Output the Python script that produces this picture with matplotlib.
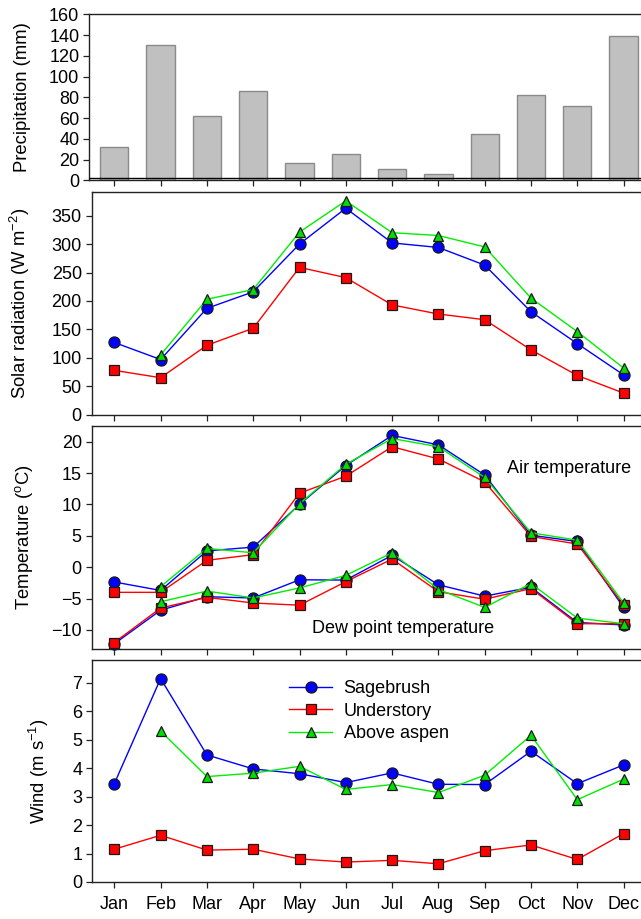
import matplotlib
matplotlib.use("Agg")
import matplotlib.pyplot as plt
import numpy as np

plt.rcParams['font.family'] = ['Liberation Sans', 'DejaVu Sans']
plt.rcParams['mathtext.fontset'] = 'custom'
plt.rcParams['mathtext.rm'] = 'Liberation Sans'
plt.rcParams['mathtext.it'] = 'Liberation Sans:italic'
plt.rcParams['mathtext.bf'] = 'Liberation Sans:bold'

months = ["Jan", "Feb", "Mar", "Apr", "May", "Jun", "Jul", "Aug", "Sep", "Oct", "Nov", "Dec"]

precip = [32, 130, 61.5, 86, 16.5, 25, 10.6, 5.8, 44.3, 82.2, 71.3, 139.4]
precip_ref = 2.6

solar_sage = [127, 97, 187, 216, 300, 363, 302, 294, 263, 181, 125, 70]
solar_under = [78, 65, 122, 152, 259, 241, 193, 177, 167, 114, 69, 38]
solar_aspen = [np.nan, 105, 203, 220, 321, 376, 320, 315, 295, 205, 146, 82]

air_sage = [-2.35, -3.7, 2.6, 3.2, 10.0, 16.2, 21.0, 19.5, 14.7, 5.1, 4.1, -6.4]
air_under = [-4.0, -4.0, 1.1, 2.0, 11.8, 14.5, 19.2, 17.25, 13.6, 4.9, 3.7, -6.0]
air_aspen = [np.nan, -3.1, 3.0, 2.3, 10.1, 16.4, 20.5, 19.2, 14.3, 5.5, 4.3, -5.7]

dew_sage = [-12.2, -6.85, -4.7, -4.9, -2.0, -2.05, 1.9, -2.8, -4.6, -3.2, -8.8, -9.2]
dew_under = [-12.0, -6.5, -4.8, -5.7, -6.05, -2.3, 1.3, -3.9, -5.1, -3.4, -9.0, -9.0]
dew_aspen = [np.nan, -5.5, -3.8, -4.9, -3.3, -1.3, 2.3, -3.55, -6.4, -2.6, -8.1, -9.0]

wind_sage = [3.45, 7.14, 4.46, 3.97, 3.80, 3.49, 3.83, 3.43, 3.42, 4.59, 3.45, 4.11]
wind_under = [1.15, 1.64, 1.12, 1.15, 0.81, 0.70, 0.76, 0.64, 1.10, 1.30, 0.79, 1.70]
wind_aspen = [np.nan, 5.30, 3.70, 3.82, 4.06, 3.25, 3.42, 3.14, 3.75, 5.15, 2.89, 3.61]

series_names = ["Sagebrush", "Understory", "Above aspen"]

W, H = 641, 919
fig = plt.figure(figsize=(W / 100, H / 100), dpi=100)

def add_axes_px(left, top, bottom, right=641):
    return fig.add_axes([left / W, 1 - bottom / H, (right - left) / W, (bottom - top) / H])

x = np.arange(12)
jan_px = 114.3
month_px = 46.3

def xlim_for(left_px):
    return (-(jan_px - left_px) / month_px, (641 - jan_px) / month_px)

ax1 = add_axes_px(89, 14.3, 180.3)
ax2 = add_axes_px(91.5, 192.3, 414.7)
ax3 = add_axes_px(91.5, 426, 648.7)
ax4 = add_axes_px(92, 659.5, 882)

TICK_FS = 13
LABEL_FS = 13.3

for ax, lp in zip([ax1, ax2, ax3, ax4], [89, 91.5, 91.5, 92]):
    ax.set_xlim(*xlim_for(lp))
    ax.set_xticks(x)
    ax.spines['right'].set_visible(False)
    for s in ['left', 'top', 'bottom']:
        ax.spines[s].set_linewidth(1.0)
        ax.spines[s].set_color('#222222')
    ax.tick_params(axis='both', direction='out', length=4, width=0.9, labelsize=TICK_FS, colors='#222222')
    ax.tick_params(axis='y', pad=3)
    ax.tick_params(axis='x', pad=6)
    for lab in ax.get_yticklabels():
        lab.set_color('black')

for ax in [ax1, ax2, ax3]:
    ax.set_xticklabels([])
ax4.set_xticklabels(months)
for lab in ax4.get_xticklabels():
    lab.set_color('black')

# Precipitation
ax1.bar(x, precip, width=0.61, color='#c0c0c0', edgecolor='#8a8a8a', linewidth=1.0, zorder=2)
ax1.axhline(precip_ref, color='black', linewidth=1.0, zorder=3)
ax1.set_ylim(0, 160)
ax1.set_yticks(np.arange(0, 161, 20))
ax1.set_ylabel("Precipitation (mm)", fontsize=LABEL_FS)
ax1.yaxis.set_label_coords(-0.105, 0.5)

colors = ['#0000ff', '#ff0000', '#00ee00']
mfc = ['#0000ff', '#ff0000', '#00dd00']
markers = ['o', 's', '^']
msizes = [8, 7, 7.5]

def plot_set(ax, data_list, labels=None):
    handles = []
    for i, d in enumerate(data_list):
        h, = ax.plot(x, d, color=colors[i], linewidth=1.0, marker=markers[i],
                     markersize=msizes[i], markerfacecolor=mfc[i], markeredgecolor='#1a1a1a',
                     markeredgewidth=0.9, label=(labels[i] if labels else None), zorder=3 + i,
                     clip_on=False)
        handles.append(h)
    return handles

plot_set(ax2, [solar_sage, solar_under, solar_aspen])
ax2.set_ylim(0, 391)
ax2.set_yticks(np.arange(0, 351, 50))
ax2.set_ylabel("Solar radiation (W m$^{-2}$)", fontsize=LABEL_FS)
ax2.yaxis.set_label_coords(-0.108, 0.5)

plot_set(ax3, [air_sage, air_under, air_aspen])
plot_set(ax3, [dew_sage, dew_under, dew_aspen])
ax3.set_ylim(-12.98, 22.5)
ax3.set_yticks(np.arange(-10, 21, 5))
ax3.set_ylabel("Temperature ($^{\\mathrm{o}}$C)", fontsize=LABEL_FS)
ax3.yaxis.set_label_coords(-0.103, 0.5)
ax3.text(8.48, 15.8, "Air temperature", fontsize=TICK_FS, ha='left', va='center')
ax3.text(4.27, -9.8, "Dew point temperature", fontsize=TICK_FS, ha='left', va='center')

hs = plot_set(ax4, [wind_sage, wind_under, wind_aspen], labels=series_names)
ax4.set_ylim(0, 7.81)
ax4.set_yticks(np.arange(0, 8, 1))
ax4.set_ylabel("Wind (m s$^{-1}$)", fontsize=LABEL_FS)
ax4.yaxis.set_label_coords(-0.075, 0.5)
ax4.legend(handles=hs, loc='upper left', bbox_to_anchor=(0.34, 0.955), frameon=False,
           fontsize=TICK_FS, handlelength=2.35, handletextpad=0.65, labelspacing=0.3,
           borderaxespad=0.2)

fig.savefig("out.png", dpi=100)
